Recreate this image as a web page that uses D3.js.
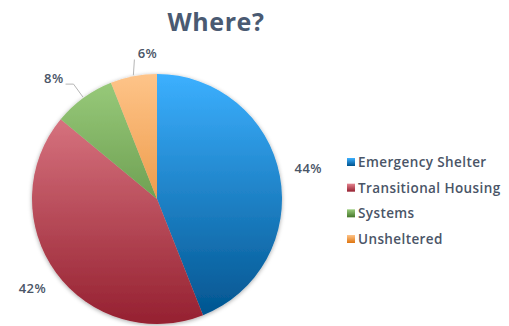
<!DOCTYPE html>
<html>
<head>
<meta charset="utf-8">
<script src="https://cdn.jsdelivr.net/npm/d3@7"></script>
<style>
  html, body { margin: 0; padding: 0; background: #fff; }
  svg text { font-family: "Open Sans", "DejaVu Sans", sans-serif; }
</style>
</head>
<body>
<svg id="chart" width="509" height="326"></svg>
<script>
// Where people were served, share of total
const categories = ["Emergency Shelter", "Transitional Housing", "Systems", "Unsheltered"];
const shares = [44, 42, 8, 6];
const sliceTop = ["#3cb0ff", "#e4848f", "#9acc7c", "#fec489"];
const sliceBottom = ["#00528c", "#952030", "#44752a", "#de7510"];

const W = 509, H = 326;
const cx = 157, cy = 199, r = 125;
const ink = "#4a5567";

const svg = d3.select("#chart");
const defs = svg.append("defs");

// Vertical gradients, one per slice, spanning the whole pie (group frame)
categories.forEach((c, i) => {
  const g = defs.append("linearGradient")
    .attr("id", "grad" + i)
    .attr("gradientUnits", "userSpaceOnUse")
    .attr("x1", 0).attr("y1", -r).attr("x2", 0).attr("y2", r);
  g.append("stop").attr("offset", "0%").attr("stop-color", sliceTop[i]);
  g.append("stop").attr("offset", "100%").attr("stop-color", sliceBottom[i]);

  const lg = defs.append("linearGradient").attr("id", "lg" + i)
    .attr("x1", 0).attr("y1", 0).attr("x2", 0).attr("y2", 1);
  lg.append("stop").attr("offset", "0%").attr("stop-color", sliceTop[i]);
  lg.append("stop").attr("offset", "100%").attr("stop-color", sliceBottom[i]);
});

const shadow = defs.append("filter").attr("id", "shadow")
  .attr("x", "-10%").attr("y", "-10%").attr("width", "120%").attr("height", "120%");
shadow.append("feDropShadow")
  .attr("dx", 0).attr("dy", 1).attr("stdDeviation", 2)
  .attr("flood-color", "#000").attr("flood-opacity", 0.35);

// Title
svg.append("text")
  .attr("x", 216).attr("y", 31)
  .attr("text-anchor", "middle")
  .attr("font-size", 25).attr("font-weight", 700)
  .attr("letter-spacing", 0.6)
  .attr("fill", "#4a5a72")
  .text("Where?");

const pie = d3.pie().sort(null).value(d => d)(shares);
const arc = d3.arc().innerRadius(0).outerRadius(r);

const g = svg.append("g").attr("transform", `translate(${cx},${cy})`);
g.append("g").attr("filter", "url(#shadow)")
  .selectAll("path")
  .data(pie)
  .join("path")
  .attr("d", arc)
  .attr("fill", (d, i) => `url(#grad${i})`);

// Percentage labels
const mid = d => (d.startAngle + d.endAngle) / 2;
const polar = (a, rad) => [Math.sin(a) * rad, -Math.cos(a) * rad];

pie.forEach((d, i) => {
  const a = mid(d);
  const label = shares[i] + "%";
  if (shares[i] >= 20) {
    const [x, y] = polar(a, r + 29);
    g.append("text")
      .attr("x", x).attr("y", y + 3)
      .attr("text-anchor", "middle")
      .attr("font-size", 13).attr("font-weight", 600)
      .attr("letter-spacing", 0.4)
      .attr("fill", ink)
      .text(label);
  } else {
    const [x0, y0] = polar(a, r + 1);
    const [x1, y1] = polar(a, r + 17);
    const left = Math.sin(a) < -0.3;
    const pts = left ? [[x0, y0], [x1, y1], [x1 - 8, y1]] : [[x0, y0], [x1 + 4, y1]];
    g.append("path")
      .attr("d", d3.line()(pts))
      .attr("fill", "none")
      .attr("stroke", "#b5b5b5")
      .attr("stroke-width", 1);
    g.append("text")
      .attr("x", left ? x1 - 10 : x1 + 17)
      .attr("y", left ? y1 - 1 : y1 - 2)
      .attr("text-anchor", left ? "end" : "middle")
      .attr("font-size", 13).attr("font-weight", 600)
      .attr("letter-spacing", 0.4)
      .attr("fill", ink)
      .text(label);
  }
});

// Legend
const legendY = d3.scalePoint().domain(categories).range([162, 239]);
const legend = svg.append("g");
categories.forEach((c, i) => {
  const y = legendY(c);
  legend.append("rect")
    .attr("x", 347).attr("y", y - 4).attr("width", 8).attr("height", 8)
    .attr("fill", `url(#lg${i})`);
  legend.append("text")
    .attr("x", 358).attr("y", y + 5)
    .attr("font-size", 13.5).attr("font-weight", 600)
    .attr("letter-spacing", 0.4)
    .attr("fill", ink)
    .text(c);
});
</script>
</body>
</html>
